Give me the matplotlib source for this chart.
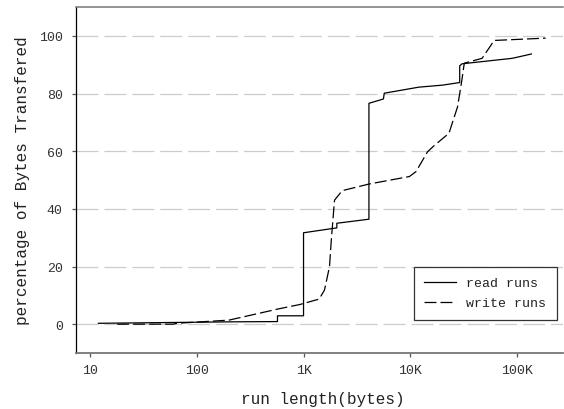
import matplotlib
matplotlib.use("Agg")
import matplotlib.pyplot as plt

# run length (bytes) vs cumulative percentage of bytes transferred
read_x = [12, 200, 570, 570, 1000, 1000, 2050, 2050, 4096, 4096, 5600, 5700,
          12000, 20000, 29000, 29000, 30500, 90000, 136000]
read_y = [0.3, 0.8, 0.9, 2.9, 2.9, 31.7, 33.4, 35.0, 36.4, 76.6, 78.1, 80.1,
          82.2, 82.9, 83.8, 89.6, 90.3, 92.2, 93.7]

write_x = [18, 60, 65, 200, 600, 920, 1400, 1570, 1750, 1820, 1950, 2300, 4100,
           9800, 11300, 14500, 16700, 23000, 27700, 30400, 32000, 47000, 61000, 185000]
write_y = [0.0, 0.0, 0.3, 1.4, 5.4, 6.8, 8.7, 11.8, 19.9, 29.2, 43.0, 46.3, 48.6,
           51.2, 52.9, 59.8, 61.9, 66.2, 75.4, 84.7, 90.5, 92.2, 98.4, 99.2]

x_ticks = [10, 100, 1000, 10000, 100000]
x_tick_labels = ["10", "100", "1K", "10K", "100K"]
y_ticks = [0, 20, 40, 60, 80, 100]

plt.rcParams['font.family'] = ['Liberation Mono', 'DejaVu Sans Mono']
plt.rcParams['lines.scale_dashes'] = False

W, H = 564, 410
fig = plt.figure(figsize=(W / 100, H / 100), dpi=100)
ax = fig.add_axes([76 / W, (H - 354) / H, (563 - 76) / W, (354 - 8) / H])

# grid lines
for yv in y_ticks:
    ax.axhline(yv, color='#cccccc', lw=0.9, dashes=(15.8, 4.3), zorder=1)

ax.plot(read_x, read_y, color='black', lw=0.9, label='read runs', zorder=3)
ax.plot(write_x, write_y, color='black', lw=0.9, dashes=(8.6, 2.9),
        label='write runs', zorder=3)

ax.set_xscale('log')
ax.set_xlim(7.4, 269000)
ax.set_ylim(-10, 110)
ax.set_xticks(x_ticks)
ax.set_xticklabels(x_tick_labels)
ax.xaxis.set_minor_locator(matplotlib.ticker.NullLocator())
ax.set_yticks(y_ticks)

ax.tick_params(axis='both', colors='#555555', labelcolor='#333333', labelsize=9.5,
               length=3, width=0.9)
ax.tick_params(axis='y', pad=6.5)
ax.tick_params(axis='x', pad=5)

ax.spines['right'].set_visible(False)
ax.spines['left'].set_color('black')
ax.spines['left'].set_linewidth(0.9)
ax.spines['top'].set_color('#777777')
ax.spines['top'].set_linewidth(1.1)
ax.spines['bottom'].set_color('#777777')
ax.spines['bottom'].set_linewidth(1.3)

ax.set_xlabel('run length(bytes)', fontsize=11.5, color='#222222')
ax.set_ylabel('percentage of Bytes Transfered', fontsize=11.5, color='#222222')
ax.xaxis.set_label_coords(0.506, -0.11)
ax.yaxis.set_label_coords(-0.094, 0.501)

leg = ax.legend(loc='lower right', bbox_to_anchor=(557 / W, (H - 321) / H),
                bbox_transform=fig.transFigure, fancybox=False, framealpha=1,
                edgecolor='#333333', fontsize=9.5, handlelength=2.4,
                borderpad=0.8, labelspacing=0.6, borderaxespad=0)
leg.get_frame().set_linewidth(0.9)
for t in leg.get_texts():
    t.set_color('#222222')

fig.savefig('out.png', dpi=100)
